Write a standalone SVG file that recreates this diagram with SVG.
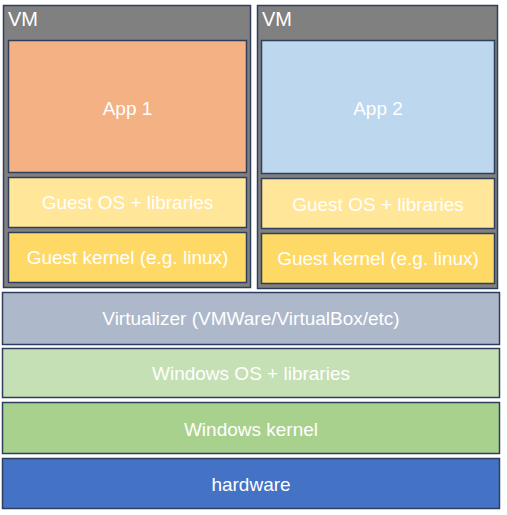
<svg xmlns="http://www.w3.org/2000/svg" width="507" height="515" viewBox="0 0 507 515">
<style>
.box{stroke:#2F3E5C;stroke-width:1.5}
.t{font-family:"Liberation Sans",Arial,sans-serif;font-size:19px;fill:#ffffff;text-anchor:middle}
.vm{font-family:"Liberation Sans",Arial,sans-serif;font-size:20px;fill:#ffffff}
</style>
<rect width="507" height="515" fill="#ffffff"/>
<g id="vm1">
<rect class="box" x="3.5" y="5.5" width="247" height="282" fill="#808080"/>
<text class="vm" x="8" y="26">VM</text>
</g>
<g id="app1">
<rect class="box" x="8.5" y="40.5" width="238" height="132" fill="#F4B183"/>
<text class="t" x="127.5" y="115">App 1</text>
</g>
<g id="guestos1">
<rect class="box" x="8.5" y="177.5" width="238" height="50" fill="#FFE699"/>
<text class="t" x="127.5" y="209">Guest OS + libraries</text>
</g>
<g id="guestkernel1">
<rect class="box" x="8.5" y="232.5" width="238" height="50" fill="#FFD966"/>
<text class="t" x="127.5" y="264">Guest kernel (e.g. linux)</text>
</g>
<g id="vm2">
<rect class="box" x="257.5" y="5.5" width="240" height="283" fill="#808080"/>
<text class="vm" x="262" y="26">VM</text>
</g>
<g id="app2">
<rect class="box" x="261.5" y="40.5" width="233" height="133" fill="#BDD7EE"/>
<text class="t" x="378" y="115">App 2</text>
</g>
<g id="guestos2">
<rect class="box" x="261.5" y="178.5" width="233" height="50" fill="#FFE699"/>
<text class="t" x="378" y="211">Guest OS + libraries</text>
</g>
<g id="guestkernel2">
<rect class="box" x="261.5" y="233.5" width="233" height="50" fill="#FFD966"/>
<text class="t" x="378" y="265">Guest kernel (e.g. linux)</text>
</g>
<g id="virtualizer">
<rect class="box" x="2.5" y="292.5" width="497" height="52" fill="#ADB9CA"/>
<text class="t" x="251" y="325">Virtualizer (VMWare/VirtualBox/etc)</text>
</g>
<g id="windowsos">
<rect class="box" x="2.5" y="348.5" width="497" height="49" fill="#C5E0B4"/>
<text class="t" x="251" y="380">Windows OS + libraries</text>
</g>
<g id="windowskernel">
<rect class="box" x="2.5" y="402.5" width="497" height="51" fill="#A9D18E"/>
<text class="t" x="251" y="436">Windows kernel</text>
</g>
<g id="hardware">
<rect class="box" x="2.5" y="458.5" width="497" height="50" fill="#4472C4"/>
<text class="t" x="251" y="491">hardware</text>
</g>
<g id="connectors"></g>
</svg>
